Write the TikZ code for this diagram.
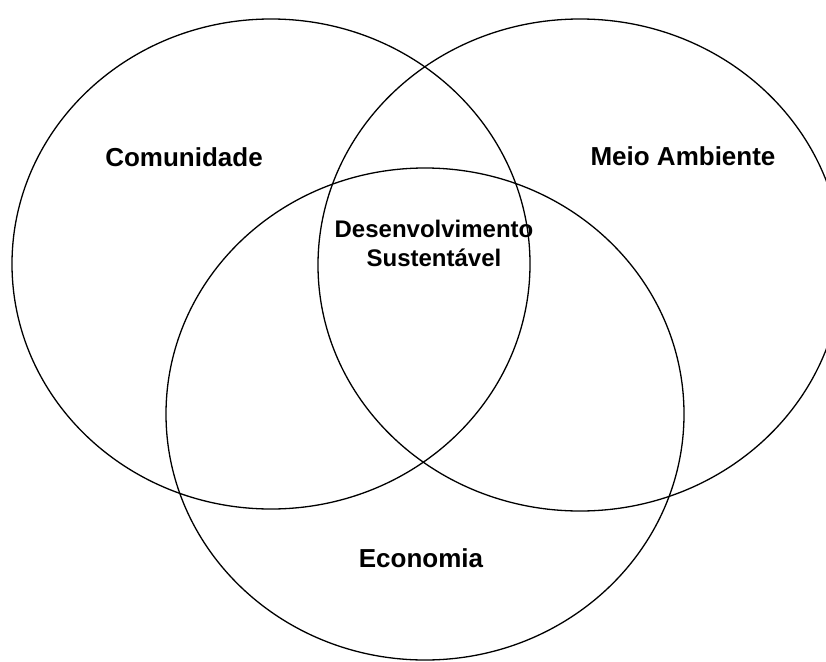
\documentclass[tikz,border=0pt]{standalone}
\usepackage{fontspec}
\setmainfont{Liberation Sans}
\begin{document}
\begin{tikzpicture}[x=1pt,y=-1pt,
  ring/.style={draw=black,line width=1.3pt},
  label/.style={font=\bfseries\fontsize{26}{30}\selectfont,anchor=base,inner sep=0pt},
  core/.style={font=\bfseries\fontsize{24}{28}\selectfont,anchor=base,inner sep=0pt}]
\useasboundingbox (0,0) rectangle (826,661);
\begin{scope}
  \clip (0,0) rectangle (826,661);
  % three overlapping spheres
  \draw[ring] (271,264) ellipse [x radius=259, y radius=245];
  \draw[ring] (580,265) ellipse [x radius=262, y radius=246];
  \draw[ring] (425,414) ellipse [x radius=259, y radius=246];
\end{scope}
\node[label] (com) at (184,166) {Comunidade};
\node[label] (meio) at (683,165) {Meio Ambiente};
\node[label] (eco) at (421,567) {Economia};
\node[core] (des) at (434,237) {Desenvolvimento};
\node[core] (sus) at (434,266) {Sustentável};
\end{tikzpicture}
\end{document}
